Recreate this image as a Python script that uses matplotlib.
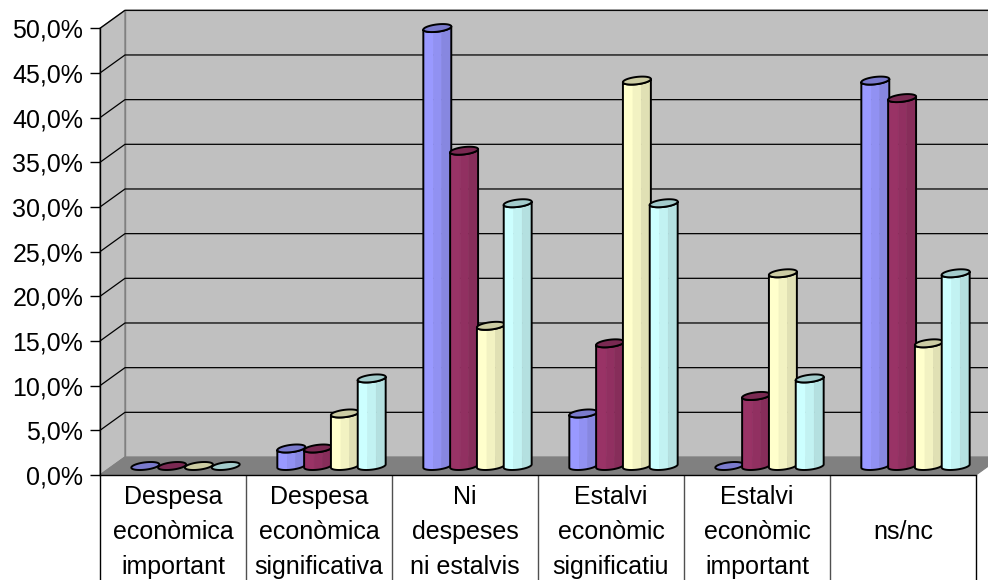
import numpy as np
import matplotlib
matplotlib.use("Agg")
import matplotlib.pyplot as plt
from matplotlib.patches import Polygon
from matplotlib.colors import to_rgb
from matplotlib.transforms import blended_transform_factory

plt.rcParams['font.family'] = ['Liberation Sans', 'DejaVu Sans']

# ---- data -------------------------------------------------------------
categories = [
    "Despesa\neconòmica\nimportant",
    "Despesa\neconòmica\nsignificativa",
    "Ni\ndespeses\nni estalvis",
    "Estalvi\neconòmic\nsignificatiu",
    "Estalvi\neconòmic\nimportant",
    "ns/nc",
]
serie_1 = [0.0, 1.96, 49.02, 5.88, 0.0, 43.14]
serie_2 = [0.0, 1.96, 35.29, 13.73, 7.84, 41.18]
serie_3 = [0.0, 5.88, 15.69, 43.14, 21.57, 13.73]
serie_4 = [0.0, 9.80, 29.41, 29.41, 9.80, 21.57]
series = [serie_1, serie_2, serie_3, serie_4]
series_colors = ["#9999FF", "#993366", "#FFFFCC", "#CCFFFF"]
y_ticks = [0, 5, 10, 15, 20, 25, 30, 35, 40, 45, 50]
y_tick_labels = [f"{v:.1f}%".replace(".", ",") for v in y_ticks]

# ---- figure / front plane ---------------------------------------------
W, H = 988, 580
fig = plt.figure(figsize=(W / 100, H / 100), dpi=100)
ax_left, ax_bottom, ax_w, ax_h = 100, 475, 876, 446.7   # pixels
ax = fig.add_axes([ax_left / W, (H - ax_bottom) / H, ax_w / W, ax_h / H])
ncat = len(categories)
ymax = y_ticks[-1]
ax.set_xlim(0, ncat)
ax.set_ylim(0, ymax)
ax.patch.set_visible(False)

ux = ncat / ax_w      # data units per pixel (x)
uy = ymax / ax_h      # data units per pixel (y)
dx, dy = 25 * ux, 18 * uy   # oblique depth offset of the back plane

# ---- walls and floor --------------------------------------------------
wall = dict(facecolor="#C0C0C0", edgecolor="#808080", lw=1.0, clip_on=False, zorder=0)
ax.add_patch(Polygon([(dx, dy), (ncat + dx, dy), (ncat + dx, ymax + dy), (dx, ymax + dy)], **wall))
ax.add_patch(Polygon([(0, 0), (dx, dy), (dx, ymax + dy), (0, ymax)], **wall))
for v in y_ticks[1:]:
    ax.plot([0, dx, ncat + dx], [v, v + dy, v + dy], color="black", lw=0.9,
            clip_on=False, zorder=0.6, solid_capstyle="butt")
ax.add_patch(Polygon([(0, 0), (ncat, 0), (ncat + dx, dy), (dx, dy)],
                     facecolor="#808080", edgecolor="#808080", lw=0.8,
                     clip_on=False, zorder=0.7))


# ---- cylinders --------------------------------------------------------
def shade(color, k):
    r, g, b = to_rgb(color)
    return (r * k, g * k, b * k)


rx, sx, sy = 12.8 * ux, 5.6 * ux, 4.0 * uy
t0 = np.arctan2(sx, rx)
base_y = dy / 2
pitch = 26.8 * ux


def ring(cx, y0, t):
    return np.column_stack([cx + rx * np.cos(t) + sx * np.sin(t), y0 + sy * np.sin(t)])


def cylinder(cx, h, color, z):
    top_y = base_y + h
    if h > 0:
        fracs = [0.0, 0.36, 0.66, 1.0]
        ks = [1.0, 0.95, 0.88]
        for (fa, fb), k in zip(zip(fracs[:-1], fracs[1:]), ks):
            ta = t0 + 2 * np.pi - np.arccos(2 * fa - 1)
            tb = t0 + 2 * np.pi - np.arccos(2 * fb - 1)
            t = np.linspace(ta, tb, 30)
            pts = np.vstack([ring(cx, base_y, t), ring(cx, top_y, t[::-1])])
            c = shade(color, k)
            ax.add_patch(Polygon(pts, facecolor=c, edgecolor=c, lw=0.4,
                                 clip_on=False, zorder=z))
        t = np.linspace(t0 + np.pi, t0 + 2 * np.pi, 80)
        pts = np.vstack([ring(cx, base_y, t), ring(cx, top_y, t[::-1])])
        ax.add_patch(Polygon(pts, facecolor="none", edgecolor="black", lw=1.4,
                             joinstyle="round", clip_on=False, zorder=z + 0.001))
    t = np.linspace(0, 2 * np.pi, 120)
    ax.add_patch(Polygon(ring(cx, top_y, t), facecolor=shade(color, 0.8),
                         edgecolor="black", lw=1.4, clip_on=False, zorder=z + 0.002))


nser = len(series)
for i in range(ncat):
    for j, (vals, col) in enumerate(zip(series, series_colors)):
        cx = i + 0.5 + dx / 2 + (j - (nser - 1) / 2) * pitch
        cylinder(cx, vals[i], col, 2 + (i * nser + j) * 0.01)

# ---- axes -------------------------------------------------------------
for s in ("top", "right"):
    ax.spines[s].set_visible(False)
for s in ("left", "bottom"):
    ax.spines[s].set_color("black")
    ax.spines[s].set_linewidth(1.0)
    ax.spines[s].set_zorder(3)
ax.set_yticks(y_ticks)
ax.set_yticklabels(y_tick_labels)
ax.tick_params(axis="y", direction="out", length=7, width=1, pad=5,
               labelsize=18, colors="black")
ax.set_xticks([])

# category table below the floor
ax.vlines(np.arange(ncat + 1), -0.3, 0, transform=ax.get_xaxis_transform(),
          colors=["black"] + ["#505050"] * (ncat - 1) + ["black"], lw=1.0, clip_on=False)
lab_tr = blended_transform_factory(ax.transData, fig.transFigure)
for i, name in enumerate(categories):
    ax.text(i + 0.5, (H - 532) / H, name, transform=lab_tr, ha="center", va="center",
            fontsize=18, linespacing=1.56, color="black")

fig.savefig("out.png", dpi=100)
